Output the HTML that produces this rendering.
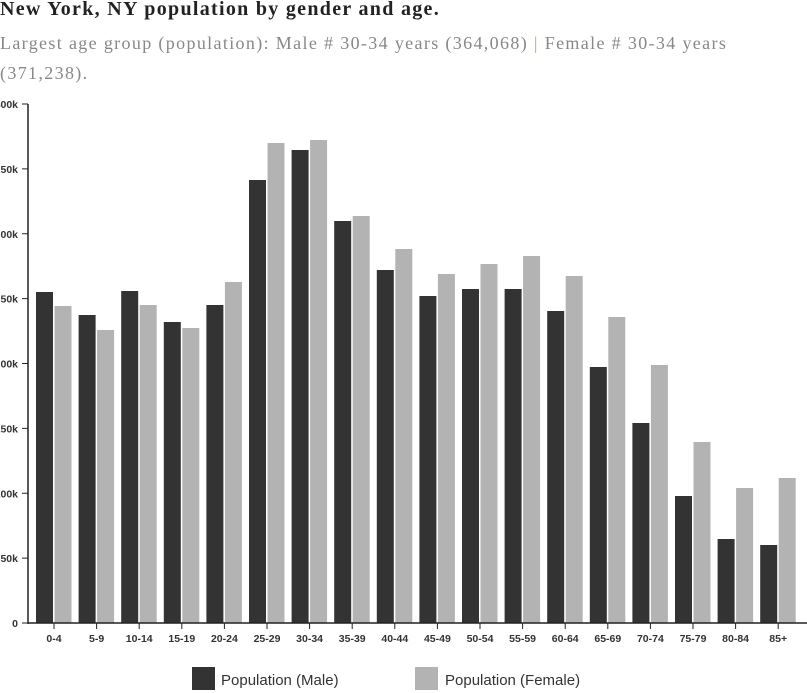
<!DOCTYPE html>
<html><head><meta charset="utf-8"><style>
body{margin:0;width:807px;height:693px;background:#fff;overflow:hidden;position:relative;font-family:"Liberation Sans",sans-serif}
#t{position:absolute;left:0;top:-2px;font:bold 20px "Liberation Serif",serif;letter-spacing:1.3px;color:#222;white-space:nowrap}
#s{position:absolute;left:0;top:28px;width:770px;font:18px/30px "Liberation Serif",serif;letter-spacing:1.35px;color:#888}
</style></head><body>
<div id="t">New York, NY population by gender and age.</div>
<div id="s">Largest age group (population): Male # 30-34 years (364,068) <span style="color:#d9a25a">|</span> Female # 30-34 years<br>(371,238).</div>
<svg width="807" height="693" style="position:absolute;left:0;top:0" font-family="Liberation Sans,sans-serif">
<g id="bars"></g>
<line x1="28" y1="104" x2="28" y2="624" stroke="#222" stroke-width="1.5"/>
<line x1="28" y1="623" x2="807" y2="623" stroke="#222" stroke-width="1.5"/>
<g font-size="10.5" font-weight="bold" fill="#333" text-anchor="end" id="yt"></g>
<g font-size="10.5" font-weight="bold" fill="#333" text-anchor="middle" id="xt"></g>
<rect x="192" y="667" width="23" height="23" fill="#333"/>
<text x="221" y="685" font-size="15" fill="#333">Population (Male)</text>
<rect x="415" y="667" width="23" height="23" fill="#b3b3b3"/>
<text x="445" y="685" font-size="15" fill="#333">Population (Female)</text>
</svg>
<script>
var m=[292,315,291,322,305,180,150,221,270,296,289,289,311,367,423,496,539,545];
var f=[306,330,305,328,282,143,140,216,249,274,264,256,276,317,365,442,488,478];
var L=["0-4","5-9","10-14","15-19","20-24","25-29","30-34","35-39","40-44","45-49","50-54","55-59","60-64","65-69","70-74","75-79","80-84","85+"];
var ns="http://www.w3.org/2000/svg",b=document.getElementById("bars"),xt=document.getElementById("xt"),yt=document.getElementById("yt");
function el(t,a,p,tx){var e=document.createElementNS(ns,t);for(var k in a)e.setAttribute(k,a[k]);if(tx)e.textContent=tx;p.appendChild(e);}
for(var i=0;i<18;i++){var c=54+i*42.6;
el("rect",{x:c-18,y:m[i],width:17,height:623-m[i],fill:"#333"},b);
el("rect",{x:c+0.5,y:f[i],width:17,height:623-f[i],fill:"#b3b3b3"},b);
el("line",{x1:c,y1:623,x2:c,y2:629,stroke:"#222"},xt);
el("text",{x:c,y:642},xt,L[i]);}
var yl=["0","50k","100k","150k","200k","250k","300k","350k","400k"];
for(var j=0;j<9;j++){var y=623-j*64.875;
el("line",{x1:22,y1:y,x2:28,y2:y,stroke:"#222"},yt);
el("text",{x:18,y:y+4},yt,yl[j]);}
</script>
</body></html>
